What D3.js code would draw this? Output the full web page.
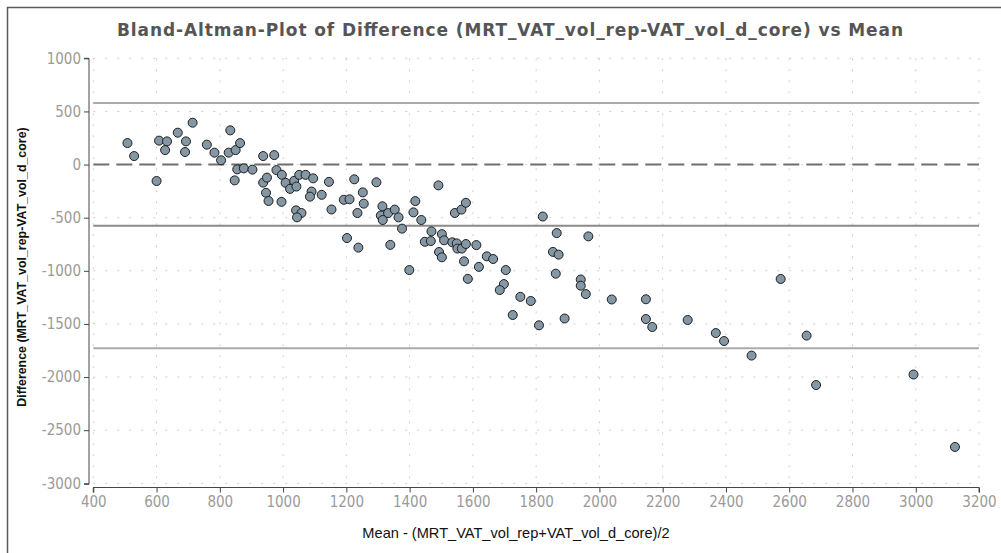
<!DOCTYPE html>
<html>
<head>
<meta charset="utf-8">
<script src="https://cdn.jsdelivr.net/npm/d3@7"></script>
<style>
  body { margin: 0; background: #fff; }
  .tick text { font-family: "Liberation Sans Narrow", "DejaVu Sans Condensed", sans-serif; font-size: 15px; fill: #9a9a9a; }
  .domain, .tick line { stroke: #444; }
</style>
</head>
<body>
<div id="chart"></div>
<script>
// mean of the two methods (x) and their difference (y)
let meanVals = [508, 529, 600, 608, 633, 627, 667, 693, 690, 714,
    759, 783, 804, 833, 828, 850, 864, 855, 847, 876,
    903, 937, 972, 937, 949, 946, 954, 979, 996, 1008,
    995, 1022, 1035, 1042, 1051, 1071, 1095, 1090, 1085, 1041,
    1058, 1044, 1122, 1145, 1153, 1192, 1210, 1225, 1235, 1202,
    1238, 1252, 1255, 1295, 1314, 1309, 1315, 1332, 1353, 1365,
    1376, 1339, 1399, 1418, 1412, 1437, 1491, 1469, 1448, 1467,
    1502, 1509, 1493, 1502, 1535, 1549, 1551, 1565, 1578, 1572,
    1584, 1611, 1619, 1543, 1564, 1578, 1644, 1664, 1704, 1698,
    1685, 1726, 1750, 1783, 1809, 1821, 1865, 1853, 1871, 1862,
    1890, 1965, 1941, 1941, 1957, 2039, 2147, 2147, 2167, 2279,
    2368, 2394, 2481, 2573, 2655, 2685, 2993, 3124];
let diffVals = [202, 80, -155, 225, 218, 136, 300, 218, 118, 394,
    187, 112, 40, 322, 112, 136, 202, -45, -149, -36,
    -48, 80, 89, -170, -123, -266, -343, -52, -97, -172,
    -351, -229, -153, -207, -97, -97, -130, -254, -302, -431,
    -456, -497, -285, -163, -423, -332, -327, -139, -456, -692,
    -782, -262, -368, -167, -393, -480, -522, -457, -424, -497,
    -603, -756, -993, -344, -450, -522, -196, -629, -727, -720,
    -655, -713, -823, -873, -732, -742, -791, -791, -748, -911,
    -1076, -758, -963, -456, -424, -360, -864, -889, -993, -1125,
    -1181, -1416, -1245, -1284, -1513, -489, -645, -822, -848, -1027,
    -1449, -676, -1082, -1140, -1219, -1270, -1268, -1454, -1529, -1463,
    -1586, -1661, -1798, -1077, -1610, -2075, -1976, -2658];

// reference lines: mean difference and limits of agreement
let meanDiff = -575;
let upperLoA = 580;
let lowerLoA = -1730;

let xTicks = [400, 600, 800, 1000, 1200, 1400, 1600, 1800, 2000, 2200, 2400, 2600, 2800, 3000, 3200];
let yTicks = [1000, 500, 0, -500, -1000, -1500, -2000, -2500, -3000];

let title = 'Bland-Altman-Plot of Difference (MRT_VAT_vol_rep-VAT_vol_d_core) vs Mean';
let xTitle = 'Mean - (MRT_VAT_vol_rep+VAT_vol_d_core)/2';
let yTitle = 'Difference (MRT_VAT_vol_rep-VAT_vol_d_core)';

let width = 1001, height = 553;

let svg = d3.select('#chart').append('svg')
    .attr('width', width)
    .attr('height', height);

// outer frame (runs off the right and bottom edges)
svg.append('rect')
    .attr('x', 7.5).attr('y', 7.5)
    .attr('width', width).attr('height', height)
    .attr('fill', 'none')
    .attr('stroke', '#5a5a5a')
    .attr('stroke-width', 1.5);

let x = d3.scaleLinear().domain([400, 3200]).range([93.3, 979]);
let y = d3.scaleLinear().domain([-3000, 1000]).range([483.3, 58.3]);

// dotted grid
svg.append('g').selectAll('line')
    .data(xTicks)
    .enter().append('line')
    .attr('x1', d => x(d)).attr('x2', d => x(d))
    .attr('y1', y(1000)).attr('y2', y(-3000))
    .attr('stroke', '#cfcfcf')
    .attr('stroke-dasharray', '2,9');

svg.append('g').selectAll('line')
    .data(yTicks)
    .enter().append('line')
    .attr('x1', x(400)).attr('x2', x(3200))
    .attr('y1', d => y(d)).attr('y2', d => y(d))
    .attr('stroke', '#cfcfcf')
    .attr('stroke-dasharray', '2,10');

// axes
let yAxis = svg.append('g')
    .attr('transform', 'translate(89,0)')
    .call(d3.axisLeft(y).tickValues(yTicks).tickSize(5).tickPadding(3).tickFormat(d => String(d)));

let xAxis = svg.append('g')
    .attr('transform', 'translate(0,487.5)')
    .call(d3.axisBottom(x).tickValues(xTicks).tickSize(5).tickPadding(4).tickFormat(d => String(d)));

yAxis.select('.domain').attr('d', 'M' + (-5) + ',' + y(1000) + 'H0V' + (y(-3000) + 1) + 'H-5');
xAxis.select('.domain').attr('d', 'M' + x(400) + ',5V0H' + x(3200) + 'V5');

// reference lines
let refs = [
    { v: upperLoA, color: '#ababab', dash: null },
    { v: meanDiff, color: '#8a8a8a', dash: null },
    { v: lowerLoA, color: '#ababab', dash: null },
    { v: 0, color: '#6e6e6e', dash: '16,7' }
];
svg.append('g').selectAll('line')
    .data(refs)
    .enter().append('line')
    .attr('x1', x(400)).attr('x2', x(3200))
    .attr('y1', d => y(d.v)).attr('y2', d => y(d.v))
    .attr('stroke', d => d.color)
    .attr('stroke-width', 2)
    .attr('stroke-dasharray', d => d.dash);

// points
svg.append('g').selectAll('circle')
    .data(meanVals)
    .enter().append('circle')
    .attr('cx', d => x(d))
    .attr('cy', (d, i) => y(diffVals[i]))
    .attr('r', 4.5)
    .attr('fill', '#8497a5')
    .attr('stroke', '#1e1e1e')
    .attr('stroke-width', 1);

// titles
svg.append('text')
    .text(title)
    .attr('x', 510).attr('y', 36)
    .attr('text-anchor', 'middle')
    .attr('textLength', 786)
    .attr('lengthAdjust', 'spacing')
    .style('font-family', '"DejaVu Sans", Verdana, sans-serif')
    .style('font-weight', 'bold')
    .style('font-size', '17px')
    .style('fill', '#555');

svg.append('text')
    .text(xTitle)
    .attr('x', 516).attr('y', 538)
    .attr('text-anchor', 'middle')
    .style('font-family', '"Liberation Sans", Arial, sans-serif')
    .style('font-size', '14.6px')
    .style('fill', '#111');

svg.append('text')
    .text(yTitle)
    .attr('transform', 'translate(26,267) rotate(-90)')
    .attr('text-anchor', 'middle')
    .style('font-family', '"Liberation Sans", Arial, sans-serif')
    .style('font-weight', 'bold')
    .style('font-size', '12.4px')
    .style('fill', '#111');
</script>
</body>
</html>
